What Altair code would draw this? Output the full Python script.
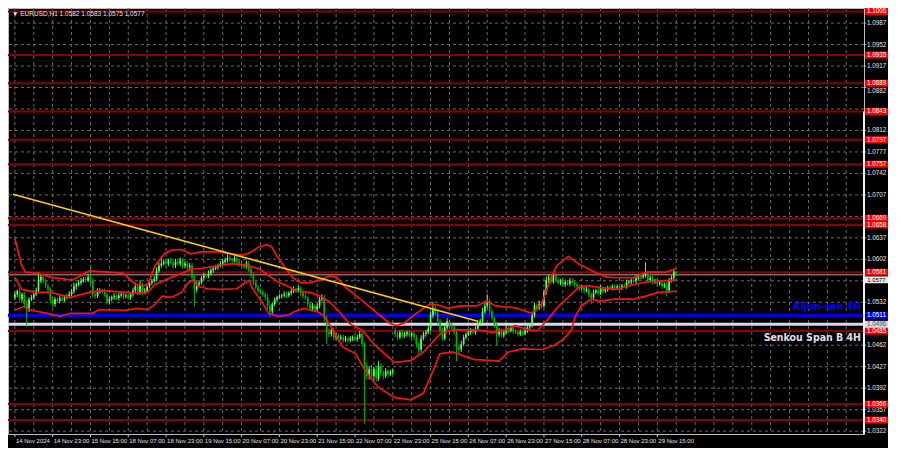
import altair as alt
import pandas as pd

# ---------------- data (prices in pips above 1.0000) ----------------
first_open_pips = 540
gap_opens = {161: 486}  # weekend gap: 25 Nov open

closes_pips = [
    545, 550, 537, 545, 529, 520, 537, 540, 545, 551,
    568, 573, 567, 558, 553, 536, 529, 537, 534, 539,
    537, 540, 542, 545, 550, 558, 561, 564, 567, 570,
    568, 573, 567, 545, 542, 550, 551, 550, 545, 533,
    537, 540, 542, 539, 543, 545, 542, 543, 540, 545,
    551, 558, 548, 561, 548, 551, 558, 564, 567, 570,
    583, 592, 595, 598, 595, 600, 597, 592, 598, 595,
    600, 592, 595, 589, 592, 572, 553, 561, 564, 572,
    576, 575, 579, 584, 587, 589, 592, 595, 598, 601,
    604, 601, 600, 603, 598, 595, 592, 590, 595, 586,
    576, 564, 556, 551, 548, 545, 540, 526, 517, 529,
    536, 540, 542, 543, 545, 543, 547, 550, 553, 551,
    555, 548, 542, 539, 529, 522, 526, 520, 526, 537,
    539, 506, 483, 480, 486, 475, 478, 473, 475, 470,
    473, 470, 473, 475, 472, 475, 480, 464, 428, 412,
    423, 412, 423, 408, 428, 417, 412, 420, 415, 418,
    420, 480, 475, 483, 477, 480, 483, 478, 481, 475,
    464, 455, 473, 480, 483, 489, 511, 522, 514, 501,
    486, 473, 491, 501, 495, 491, 483, 459, 455, 464,
    475, 480, 483, 486, 483, 489, 498, 501, 517, 526,
    533, 517, 506, 495, 480, 486, 478, 483, 489, 486,
    491, 484, 483, 480, 484, 481, 486, 491, 495, 511,
    526, 522, 529, 526, 548, 568, 572, 565, 576, 568,
    564, 567, 561, 565, 562, 567, 564, 561, 558, 555,
    556, 551, 553, 545, 539, 548, 551, 547, 555, 550,
    553, 556, 555, 558, 556, 558, 556, 559, 558, 564,
    565, 568, 567, 572, 575, 573, 576, 579, 568, 572,
    565, 567, 562, 564, 558, 561, 551, 567, 572, 582,
    577,
]

upper_wicks = [
    4, 3, 5, 3, 4, 6, 3, 4, 3, 5,
    13, 4, 5, 3, 4, 3, 5, 4, 3, 4,
    3, 4, 3, 5, 4, 6, 3, 4, 5, 3,
    4, 5, 20, 4, 3, 5, 4, 3, 4, 3,
    4, 3, 5, 3, 4, 3, 4, 3, 5, 4,
    5, 6, 4, 7, 3, 4, 5, 4, 3, 5,
    6, 5, 12, 4, 5, 3, 5, 4, 5, 3,
    5, 4, 3, 5, 4, 4, 6, 5, 4, 3,
    4, 3, 5, 4, 3, 4, 3, 4, 5, 4,
    6, 4, 3, 5, 4, 3, 4, 3, 5, 4,
    4, 5, 3, 4, 3, 4, 3, 5, 4, 3,
    4, 3, 4, 3, 5, 4, 3, 4, 5, 3,
    4, 3, 5, 4, 3, 4, 5, 3, 4, 5,
    6, 5, 4, 6, 4, 5, 4, 3, 4, 5,
    4, 3, 4, 3, 5, 4, 5, 4, 3, 6,
    5, 7, 4, 6, 8, 5, 4, 5, 3, 4,
    3, 5, 4, 3, 5, 4, 3, 4, 3, 4,
    4, 3, 5, 4, 4, 5, 6, 11, 5, 4,
    4, 5, 4, 5, 3, 4, 3, 4, 4, 5,
    4, 3, 5, 4, 3, 4, 5, 4, 6, 5,
    12, 5, 4, 3, 5, 4, 3, 4, 5, 3,
    4, 3, 4, 3, 4, 3, 5, 4, 3, 6,
    5, 4, 6, 4, 5, 6, 5, 4, 5, 4,
    4, 3, 5, 4, 3, 5, 4, 3, 4, 3,
    4, 3, 4, 3, 4, 5, 3, 4, 5, 3,
    4, 3, 4, 3, 4, 3, 4, 3, 4, 5,
    4, 3, 4, 5, 3, 4, 3, 18, 4, 3,
    4, 3, 4, 3, 4, 3, 4, 5, 4, 3,
    1,
]

lower_wicks = [
    4, 5, 6, 4, 5, 25, 4, 3, 4, 3,
    4, 5, 4, 3, 4, 6, 5, 4, 3, 4,
    3, 4, 3, 4, 3, 4, 5, 3, 4, 3,
    4, 3, 5, 5, 4, 3, 4, 3, 4, 5,
    4, 3, 4, 3, 4, 3, 5, 4, 3, 4,
    4, 3, 5, 4, 5, 3, 4, 3, 4, 3,
    4, 3, 4, 3, 5, 4, 3, 5, 4, 3,
    4, 5, 3, 4, 4, 6, 28, 5, 4, 3,
    4, 3, 4, 3, 4, 3, 4, 3, 4, 3,
    4, 3, 4, 3, 4, 5, 3, 4, 3, 5,
    5, 4, 3, 4, 3, 4, 5, 6, 9, 4,
    3, 4, 3, 4, 3, 4, 3, 4, 3, 4,
    3, 5, 4, 3, 5, 4, 5, 4, 3, 4,
    3, 6, 19, 5, 4, 5, 4, 5, 3, 4,
    3, 4, 3, 4, 3, 4, 3, 5, 94, 6,
    6, 5, 7, 5, 4, 5, 6, 4, 5, 3,
    4, 5, 4, 3, 4, 3, 4, 3, 4, 5,
    6, 7, 4, 3, 4, 3, 4, 5, 4, 5,
    5, 4, 3, 4, 5, 3, 4, 23, 6, 4,
    3, 4, 3, 4, 3, 4, 3, 4, 3, 4,
    4, 5, 4, 5, 18, 4, 3, 4, 3, 4,
    3, 4, 3, 4, 3, 4, 3, 4, 3, 4,
    4, 5, 3, 4, 3, 4, 5, 4, 3, 4,
    3, 4, 3, 4, 3, 4, 3, 4, 3, 4,
    3, 4, 3, 5, 10, 4, 3, 4, 3, 4,
    3, 4, 3, 4, 3, 4, 3, 4, 3, 4,
    3, 4, 3, 4, 3, 4, 3, 4, 5, 3,
    4, 3, 4, 3, 4, 3, 9, 4, 3, 4,
    2,
]

# band lines: (bar index, pips)
upper_band = [(0, 636), (2.9, 592), (4.5, 581), (9.8, 579), (15.2, 573), (24.2, 568),
              (31.6, 583), (39.8, 581), (45.9, 579), (51.2, 561), (56.1, 559), (59.4, 592),
              (63.5, 612), (66.4, 617), (70.5, 618), (74.6, 611), (78.7, 614), (86.9, 614),
              (91.0, 611), (96.3, 609), (99.2, 612), (103.3, 622), (106.6, 626), (108.6, 623),
              (111.5, 604), (114.3, 589), (117.6, 572), (120.9, 564), (125, 564), (129.1, 568),
              (133.2, 575), (136.1, 573), (140.2, 556), (146.3, 537), (152.5, 517), (158.6, 498),
              (161.5, 494), (164.8, 498), (168.9, 511), (173, 522), (175.8, 529), (179.1, 528),
              (183.2, 522), (188.5, 526), (195.5, 526), (199.6, 534), (203.7, 526), (211.9, 523),
              (218.9, 514), (223, 529), (227, 572), (229.5, 592), (234.4, 607), (238.5, 595),
              (246.7, 579), (250.8, 573), (256.1, 572), (261.9, 572), (267.2, 581), (275.4, 581),
              (280, 587)]
middle_band = [(0, 573), (2.9, 553), (9, 548), (15.2, 548), (23.4, 540), (31.6, 548),
               (36.9, 551), (47.1, 548), (51.2, 547), (56.1, 548), (59.4, 561), (66.4, 573),
               (70.5, 579), (74.6, 586), (78.7, 587), (86.9, 592), (92.2, 595), (98, 592),
               (103.3, 587), (107.4, 576), (111.5, 565), (115.6, 558), (119.7, 550), (125, 548),
               (129.1, 542), (133.2, 533), (137.3, 517), (141.4, 498), (147.1, 486), (152.5, 462),
               (160.7, 434), (167.6, 437), (173, 451), (179.9, 480), (185.2, 487), (195.5, 487),
               (202.5, 483), (207.8, 487), (211.9, 494), (217.2, 487), (221.3, 486), (225.4, 503),
               (230.3, 526), (235.6, 545), (238.5, 556), (242.6, 559), (248, 556), (254.9, 553),
               (261.9, 561), (267.2, 565), (274.2, 567), (280, 568)]
lower_band = [(0, 519), (3.7, 525), (7, 519), (13.9, 514), (19.3, 509), (23.4, 514),
              (32.8, 514), (35.7, 520), (47.1, 519), (51.2, 522), (56.1, 520), (59.4, 529),
              (62.3, 542), (66.4, 540), (70.5, 548), (73.4, 564), (75.4, 568), (77.5, 558),
              (81.6, 554), (86.9, 553), (93.9, 554), (98, 565), (99.2, 568), (100.4, 556),
              (104.5, 533), (107.4, 514), (111.5, 509), (115.6, 511), (118.4, 517), (122.5, 522),
              (127.9, 517), (130.7, 511), (134.8, 486), (138.9, 459), (144.3, 448), (148.4, 420),
              (153.7, 394), (160.7, 377), (167.6, 373), (173, 384), (177, 420), (179.9, 448),
              (185.2, 451), (194.3, 439), (204.9, 436), (209, 451), (214.8, 456), (223, 455),
              (228.3, 462), (232.4, 472), (235.6, 487), (237.3, 509), (239.8, 526), (243.9, 537),
              (248, 534), (253.7, 537), (261.9, 537), (267.2, 542), (272.5, 548), (280, 550)]

trend_line = [(-0.8, 1.0708), (196, 1.0501)]

red_levels = [1.1006, 1.0935, 1.0889, 1.0843, 1.0797, 1.0757, 1.0669, 1.0658,
              1.0581, 1.0485, 1.0366, 1.0340]
kijun_level = 1.0511
senkou_level = 1.0496
bid_level = 1.0577
header_ohlc = [1.0582, 1.0583, 1.0575, 1.0577]

grid_prices = [1.0322, 1.0357, 1.0392, 1.0427, 1.0462, 1.0497, 1.0532, 1.0567, 1.0602,
               1.0637, 1.0672, 1.0707, 1.0742, 1.0777, 1.0812, 1.0847, 1.0882, 1.0917,
               1.0952, 1.0987]
label_prices = [1.0322, 1.0357, 1.0392, 1.0427, 1.0462, 1.0532, 1.0567, 1.0602, 1.0637,
                1.0707, 1.0742, 1.0777, 1.0812, 1.0917, 1.0952, 1.0987]
nudged_label_prices = [1.0882]  # sits just under the 1.0889 box

time_label_bars = [0, 16, 32, 48, 64, 80, 96, 112, 128, 144, 160, 176, 192, 208, 224, 240, 256, 272]
time_labels = ["14 Nov 2024", "14 Nov 23:00", "15 Nov 15:00", "18 Nov 07:00", "18 Nov 23:00",
               "19 Nov 15:00", "20 Nov 07:00", "20 Nov 23:00", "21 Nov 15:00", "22 Nov 07:00",
               "22 Nov 23:00", "25 Nov 15:00", "26 Nov 07:00", "26 Nov 23:00", "27 Nov 15:00",
               "28 Nov 07:00", "28 Nov 23:00", "29 Nov 15:00"]
grid_bars = [0, 8, 16, 24, 32, 40, 48, 56, 64, 72, 80, 88, 96, 104, 112, 120, 128, 136, 144,
             152, 160, 168, 176, 184, 192, 200, 208, 216, 224, 232, 240, 248, 256, 264, 272,
             280, 288, 296, 304, 312, 320, 328, 336, 344, 352]

# ---------------- tables ----------------
def px(p):
    return 1.0 + p / 10000.0

opens_pips = [first_open_pips] + closes_pips[:-1]
for k, v in gap_opens.items():
    opens_pips[k] = v

rows = []
for i, (o, c, uw, lw) in enumerate(zip(opens_pips, closes_pips, upper_wicks, lower_wicks)):
    rows.append({
        "i": i,
        "open": px(o),
        "close": px(c),
        "high": px(max(o, c) + uw),
        "low": px(min(o, c) - lw),
        "dir": "up" if c >= o else "down",
    })
candles = pd.DataFrame(rows)

band_rows = []
for name, pts in (("upper", upper_band), ("middle", middle_band), ("lower", lower_band)):
    for b, p in pts:
        band_rows.append({"band": name, "i": b, "price": px(p)})
bands_df = pd.DataFrame(band_rows)

trend_df = pd.DataFrame([{"i": b, "price": p} for b, p in trend_line])

# ---------------- layout / style ----------------
W, H = 856, 426
FONT = "Liberation Sans"
BOLD_FONT = "Liberation Sans Narrow, DejaVu Sans Condensed, Liberation Sans"
GRID = "#6a6a6a"
xs = alt.Scale(domain=[-0.8, 357.4], nice=False, zero=False)
ys = alt.Scale(domain=[1.03173, 1.10116], nice=False, zero=False)


def X(f="i"):
    return alt.X(f"{f}:Q", scale=xs, axis=None)


def Y(f="price"):
    return alt.Y(f"{f}:Q", scale=ys, axis=None)


grid_v = alt.Chart(pd.DataFrame({"i": grid_bars})).mark_rule(
    color=GRID, strokeDash=[3, 3], strokeWidth=1).encode(x=X())
grid_h = alt.Chart(pd.DataFrame({"price": grid_prices})).mark_rule(
    color=GRID, strokeDash=[3, 3], strokeWidth=1).encode(y=Y())

red_df = pd.DataFrame({"price": red_levels})
red_lines = alt.Chart(red_df).mark_rule(color="#8b0000", strokeWidth=2).encode(y=Y())
bid_line = alt.Chart(pd.DataFrame({"price": [bid_level]})).mark_rule(
    color="#6e6e6e", strokeWidth=1.5).encode(y=Y())
senkou_line = alt.Chart(pd.DataFrame({"price": [senkou_level]})).mark_rule(
    color="#dcd6ea", strokeWidth=3).encode(y=Y())
kijun_line = alt.Chart(pd.DataFrame({"price": [kijun_level]})).mark_rule(
    color="#0000ff", strokeWidth=3).encode(y=Y())

ccol = alt.Color("dir:N", scale=alt.Scale(domain=["up", "down"], range=["#5cff5c", "#00b400"]),
                 legend=None)
wicks = alt.Chart(candles).mark_rule(strokeWidth=1).encode(
    x=X(), y=Y("low"), y2="high", color=ccol)
bodies = alt.Chart(candles).mark_bar(size=1.7).encode(
    x=X(), y=Y("open"), y2="close", color=ccol)

band_lines = alt.Chart(bands_df).mark_line(color="#ff1010", strokeWidth=1.7).encode(
    x=X(), y=Y(), detail="band:N")
trend = alt.Chart(trend_df).mark_line(color="#ffcc00", strokeWidth=1.6).encode(x=X(), y=Y())

# right price scale
all_tick_prices = label_prices + nudged_label_prices
tick_marks = alt.Chart(pd.DataFrame({"price": all_tick_prices})).mark_rule(
    color="#c8c8c8").encode(y=Y(), x=alt.value(W), x2=alt.value(W + 2))
price_labels = alt.Chart(pd.DataFrame({
    "price": label_prices, "label": [f"{p:.4f}" for p in label_prices]})).mark_text(
    align="left", baseline="middle", fontSize=6.3, font=FONT, color="#e6e6e6").encode(
    x=alt.value(W + 3), y=Y(), text="label:N")
nudged_labels = alt.Chart(pd.DataFrame({
    "price": nudged_label_prices, "label": [f"{p:.4f}" for p in nudged_label_prices]})).mark_text(
    align="left", baseline="middle", dy=3, fontSize=6.3, font=FONT, color="#e6e6e6").encode(
    x=alt.value(W + 3), y=Y(), text="label:N")

# level boxes on the price scale
box_rows = [{"price": p, "label": f"{p:.4f}", "fill": "#ff0000", "tc": "#ffffff"} for p in red_levels]
box_rows.append({"price": kijun_level, "label": f"{kijun_level:.4f}", "fill": "#0000ff", "tc": "#ffffff"})
box_rows.append({"price": senkou_level, "label": f"{senkou_level:.4f}", "fill": "#dcd6ea", "tc": "#505050"})
box_df = pd.DataFrame(box_rows)
boxes = alt.Chart(box_df).mark_rect(yOffset=-3.5, y2Offset=3.5).encode(
    x=alt.value(W + 1), x2=alt.value(W + 24), y=Y(), y2="price",
    color=alt.Color("fill:N", scale=None))
box_text = alt.Chart(box_df).mark_text(
    align="center", baseline="middle", fontSize=6.3, font=FONT).encode(
    x=alt.value(W + 12.5), y=Y(), text="label:N", color=alt.Color("tc:N", scale=None))

# current bid box, just below the 1.0581 box
bid_df = pd.DataFrame({"price": [bid_level], "label": [f"{bid_level:.4f}"]})
bid_box = alt.Chart(bid_df).mark_rect(color="#e8e8e8", yOffset=1.8, y2Offset=8.6).encode(
    x=alt.value(W + 1), x2=alt.value(W + 24), y=Y(), y2="price")
bid_text = alt.Chart(bid_df).mark_text(
    align="center", baseline="middle", dy=5.2, fontSize=6.0, font=FONT, color="#000000").encode(
    x=alt.value(W + 12.5), y=Y(), text="label:N")

right_bar = alt.Chart(pd.DataFrame({"price": [1.0843]})).mark_rule(
    color="#f0f0f0", strokeWidth=2).encode(x=alt.value(W), y=Y(), y2=alt.value(H))

# bottom time scale
tdf = pd.DataFrame({"i": time_label_bars, "label": time_labels})
time_ticks = alt.Chart(tdf).mark_rule(color="#c8c8c8").encode(
    x=X(), y=alt.value(H), y2=alt.value(H + 3))
time_text = alt.Chart(tdf).mark_text(
    align="left", baseline="top", dx=1, fontSize=6, font=FONT, color="#e6e6e6").encode(
    x=X(), y=alt.value(H + 3.5), text="label:N")

# captions
header = alt.Chart(pd.DataFrame({
    "label": ["\u25bc EURUSD,H1  " + " ".join(f"{v:.4f}" for v in header_ohlc)]})).mark_text(
    align="left", baseline="middle", fontSize=6.5, font=FONT, color="#e6e6e6").encode(
    x=alt.value(4), y=alt.value(6), text="label:N")
kijun_text = alt.Chart(pd.DataFrame({"price": [kijun_level], "label": ["Kijun-sen 4H"]})).mark_text(
    align="right", baseline="alphabetic", dy=-5, fontSize=10.5, fontWeight="bold",
    font=BOLD_FONT, color="#0000ff").encode(
    x=alt.value(W - 3), y=Y(), text="label:N")
senkou_text = alt.Chart(pd.DataFrame({"price": [senkou_level], "label": ["Senkou Span B 4H"]})).mark_text(
    align="right", baseline="alphabetic", dy=17, fontSize=10.5, fontWeight="bold",
    font=BOLD_FONT, color="#e0dcea").encode(
    x=alt.value(W - 3), y=Y(), text="label:N")

chart = alt.layer(
    grid_v, grid_h, red_lines, bid_line, senkou_line, kijun_line,
    wicks, bodies, band_lines, trend,
    tick_marks, price_labels, nudged_labels, bid_box, bid_text, boxes, box_text, right_bar,
    time_ticks, time_text, header, kijun_text, senkou_text,
).properties(
    width=W, height=H, background="#000000",
    padding={"left": 0, "top": 0, "right": 24, "bottom": 14},
    autosize=alt.AutoSizeParams(type="none"),
).configure_view(stroke="#bdbdbd", fill="#000000")

chart.save("out.html", embed_options={"renderer": "svg", "actions": False})
